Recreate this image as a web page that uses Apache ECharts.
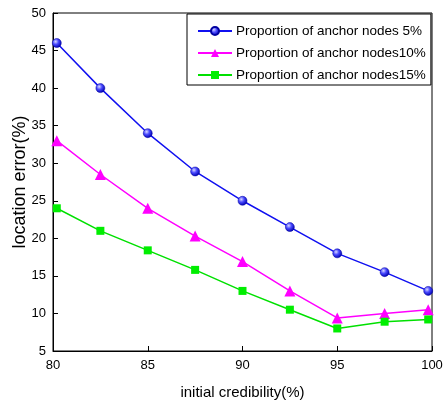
<!DOCTYPE html>
<html>
<head>
<meta charset="utf-8">
<script src="https://cdn.jsdelivr.net/npm/echarts@6/dist/echarts.min.js"></script>
<style>
  html, body { margin: 0; padding: 0; background: #fff; }
  #chart { width: 445px; height: 403px; }
</style>
</head>
<body>
<div id="chart"></div>
<script>
// Initial credibility (%) at which each location error was measured
const credibility = [80.2, 82.5, 85, 87.5, 90, 92.5, 95, 97.5, 99.8];

// Location error (%) for each anchor-node proportion
const anchor5 = [46, 40, 34, 28.9, 25, 21.5, 18, 15.5, 13];
const anchor10 = [33, 28.5, 24, 20.3, 16.9, 13, 9.4, 10, 10.5];
const anchor15 = [24, 21, 18.4, 15.8, 13, 10.5, 8, 8.9, 9.2];

const seriesNames = [
  'Proportion of anchor nodes 5%',
  'Proportion of anchor nodes10%',
  'Proportion of anchor nodes15%'
];

const xTicks = [80, 85, 90, 95, 100];
const yTicks = [5, 10, 15, 20, 25, 30, 35, 40, 45, 50];

const pairs = (ys) => credibility.map((x, i) => [x, ys[i]]);

const font = '"Liberation Sans", Arial, sans-serif';

const chart = echarts.init(document.getElementById('chart'), null, { renderer: 'canvas' });

// shaded "ball" fill for the 5% series markers
const ball = {
  type: 'radial', x: 0.38, y: 0.35, r: 0.65,
  colorStops: [
    { offset: 0, color: '#d8d8ff' },
    { offset: 0.45, color: '#4a4aff' },
    { offset: 1, color: '#0000b0' }
  ]
};

chart.setOption({
  animation: false,
  backgroundColor: '#fff',
  grid: {
    left: 53, top: 13, right: 13, bottom: 52,
    outerBoundsMode: 'none',
    show: true, borderColor: '#000', borderWidth: 1, backgroundColor: 'transparent'
  },
  legend: {
    orient: 'vertical',
    left: 187, top: 14,
    padding: [9, 5, 2, 10],
    itemGap: 6,
    itemWidth: 34, itemHeight: 10,
    borderColor: '#000', borderWidth: 1,
    backgroundColor: '#fff',
    textStyle: { fontFamily: font, fontSize: 13.5, lineHeight: 16, color: '#000', padding: [0, 0, 0, -1] },
    data: seriesNames
  },
  xAxis: {
    type: 'value',
    min: 80, max: 100, interval: 5,
    name: 'initial credibility(%)',
    nameLocation: 'middle', nameGap: 34, nameMoveOverlap: false,
    nameTextStyle: { fontFamily: font, fontSize: 15, color: '#000' },
    axisLine: { lineStyle: { color: '#000', width: 1 } },
    axisTick: { inside: true, length: 5, lineStyle: { color: '#000' } },
    axisLabel: {
      fontFamily: font, fontSize: 13, color: '#000', margin: 8,
      formatter: (v) => xTicks.includes(v) ? String(v) : ''
    },
    splitLine: { show: false }
  },
  yAxis: {
    type: 'value',
    min: 5, max: 50, interval: 5,
    name: 'location error(%)',
    nameLocation: 'middle', nameGap: 24, nameMoveOverlap: false,
    nameTextStyle: { fontFamily: font, fontSize: 18, color: '#000' },
    axisLine: { show: true, lineStyle: { color: '#000', width: 1 } },
    axisTick: { show: true, inside: true, length: 5, lineStyle: { color: '#000' } },
    axisLabel: {
      fontFamily: font, fontSize: 13, color: '#000', margin: 7,
      formatter: (v) => yTicks.includes(v) ? String(v) : ''
    },
    splitLine: { show: false }
  },
  series: [
    {
      name: seriesNames[0], type: 'line', data: pairs(anchor5),
      symbol: 'circle', symbolSize: 9,
      lineStyle: { color: '#1010f0', width: 1.5 },
      itemStyle: { color: ball, borderColor: '#0000a0', borderWidth: 0.5 }
    },
    {
      name: seriesNames[1], type: 'line', data: pairs(anchor10),
      symbol: 'triangle', symbolSize: 11,
      lineStyle: { color: '#ff00ff', width: 1.5 },
      itemStyle: { color: '#ff00ff' }
    },
    {
      name: seriesNames[2], type: 'line', data: pairs(anchor15),
      symbol: 'rect', symbolSize: 8,
      lineStyle: { color: '#00e000', width: 1.5 },
      itemStyle: { color: '#00ee00' }
    }
  ]
});
</script>
</body>
</html>
